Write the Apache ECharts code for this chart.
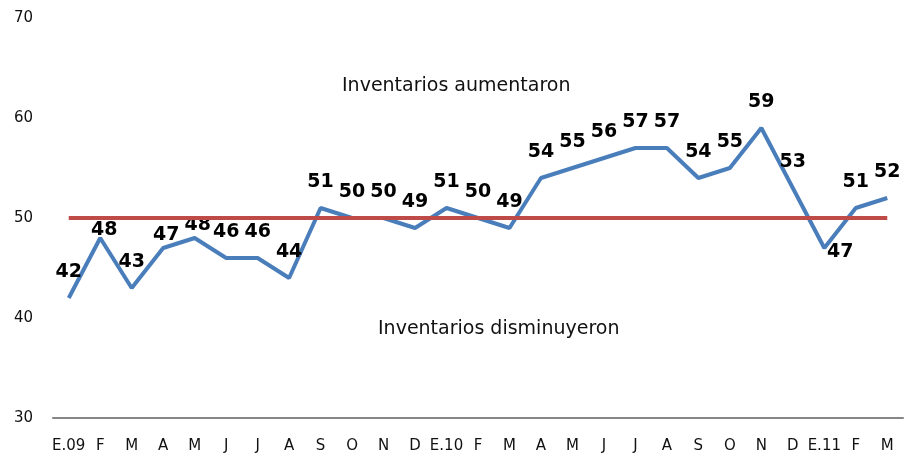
<!DOCTYPE html>
<html>
<head>
<meta charset="utf-8">
<script src="https://cdn.jsdelivr.net/npm/echarts@6/dist/echarts.min.js"></script>
<style>
  html, body { margin: 0; padding: 0; background: #fff; }
  #chart { width: 904px; height: 459px; }
</style>
</head>
<body>
<div id="chart"></div>
<script>
// meses (E = enero)
const categorias = ['E.09', 'F', 'M', 'A', 'M', 'J', 'J', 'A', 'S', 'O', 'N', 'D',
  'E.10', 'F', 'M', 'A', 'M', 'J', 'J', 'A', 'S', 'O', 'N', 'D', 'E.11', 'F', 'M']
const indice = [42, 48, 43, 47, 48, 46, 46, 44, 51, 50, 50, 49,
  51, 50, 49, 54, 55, 56, 57, 57, 54, 55, 59, 53, 47, 51, 52]
const umbral = 50
const yTicks = [30, 40, 50, 60, 70]

const fuente = 'DejaVu Sans'

// ajustes de etiquetas que se mueven respecto a la posicion normal
const labelOffsets = {
  1: [4, 18],
  3: [3, 13],
  4: [3, 13],
  24: [16, 30]
}

const chart = echarts.init(document.getElementById('chart'))

chart.setOption({
  animation: false,
  grid: {
    left: 53,
    right: 1,
    top: 18,
    bottom: 41
  },
  xAxis: {
    type: 'category',
    data: categorias,
    boundaryGap: true,
    axisLine: { show: true, lineStyle: { color: '#868686', width: 2 } },
    axisTick: { show: false },
    axisLabel: {
      interval: 0,
      margin: 21,
      color: '#111',
      fontFamily: fuente,
      fontSize: 15
    }
  },
  yAxis: {
    type: 'value',
    min: yTicks[0],
    max: yTicks[yTicks.length - 1],
    interval: 10,
    axisLine: { show: false },
    axisTick: { show: false },
    splitLine: { show: false },
    axisLabel: {
      margin: 20,
      color: '#111',
      fontFamily: fuente,
      fontSize: 15
    }
  },
  graphic: [
    {
      type: 'text',
      left: 456 - 114,
      top: 77,
      style: {
        text: 'Inventarios aumentaron',
        fill: '#111',
        font: '19px "DejaVu Sans"'
      }
    },
    {
      type: 'text',
      left: 378,
      top: 320,
      style: {
        text: 'Inventarios disminuyeron',
        fill: '#111',
        font: '19px "DejaVu Sans"'
      }
    }
  ],
  series: [
    {
      name: 'Indice',
      type: 'line',
      z: 2,
      symbol: 'circle',
      symbolSize: 1,
      showSymbol: true,
      itemStyle: { color: 'rgba(0,0,0,0)' },
      lineStyle: { color: '#4a7ebb', width: 4 },
      data: indice.map((v, i) => {
        const item = { value: v }
        if (labelOffsets[i]) {
          item.label = { offset: labelOffsets[i] }
        }
        return item
      }),
      label: {
        show: true,
        position: 'top',
        distance: 16,
        color: '#000',
        fontFamily: fuente,
        fontWeight: 'bold',
        fontSize: 19
      }
    },
    {
      name: 'Umbral',
      type: 'line',
      z: 3,
      symbol: 'none',
      lineStyle: { color: '#be4b48', width: 4 },
      data: [[0, umbral], [categorias.length - 1, umbral]]
    }
  ]
})
</script>
</body>
</html>
